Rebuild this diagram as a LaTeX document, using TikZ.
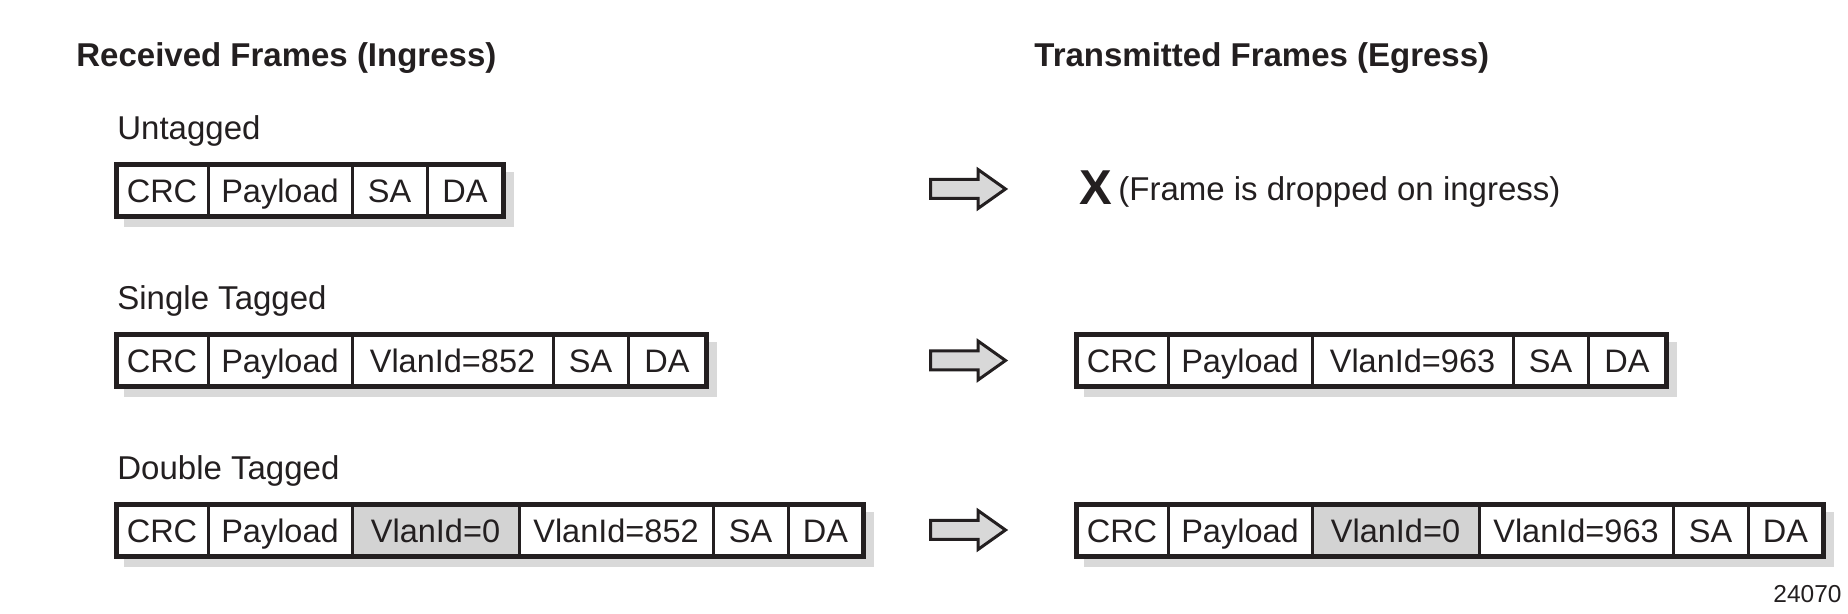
\documentclass[tikz,border=0pt]{standalone}
\usepackage{fontspec}
\setmainfont{Liberation Sans}
\definecolor{ink}{HTML}{231F20}
\definecolor{shade}{HTML}{D9D9D9}
\definecolor{cellgray}{HTML}{D3D3D3}
\definecolor{arrowgray}{HTML}{D8D8D8}
\tikzset{
  cell/.style={draw=ink, line width=1.5pt, inner sep=0pt, outer sep=0pt,
    minimum height=26pt, anchor=west, fill=white, text=ink,
    font=\fontsize{16.25}{19}\selectfont, text height=11.6pt, text depth=0pt},
  graycell/.style={cell, fill=cellgray},
  outerbox/.style={draw=ink, line width=2.5pt},
  shadowbox/.style={fill=shade},
  title/.style={anchor=base west, inner sep=0pt, text=ink, font=\fontsize{16.5}{19}\bfseries\selectfont},
  label/.style={anchor=base west, inner sep=0pt, text=ink, font=\fontsize{16.5}{19}\selectfont},
  blockarrow/.style={draw=ink, line width=1.5pt, fill=arrowgray, line join=miter},
}
\begin{document}
\begin{tikzpicture}[x=0.5pt,y=-0.5pt]
\useasboundingbox (0,0) rectangle (1848,614);

% headings
\node[title] (hin) at (76,67) {Received Frames (Ingress)};
\node[title] (heg) at (1034,67) {Transmitted Frames (Egress)};

% row labels
\node[label] (lun) at (117,140) {Untagged};
\node[label] (lsi) at (117,310) {Single Tagged};
\node[label] (ldo) at (117,480) {Double Tagged};

% ---------- Row 1 ingress ----------
\fill[shadowbox] (124,172.5) rectangle (513.5,227);
\node[cell, minimum width=46pt] (a1) at (116,190.5) {CRC};
\node[cell, minimum width=72pt] (a2) at (a1.east) {Payload};
\node[cell, minimum width=37.5pt] (a3) at (a2.east) {SA};
\node[cell, minimum width=38pt] (a4) at (a3.east) {DA};
\draw[outerbox] (a1.north west) rectangle (a4.south east);

% ---------- Row 2 ingress ----------
\fill[shadowbox] (124,342.5) rectangle (716.5,397);
\node[cell, minimum width=46pt] (b1) at (116,360.5) {CRC};
\node[cell, minimum width=72pt] (b2) at (b1.east) {Payload};
\node[cell, minimum width=100.5pt] (b3) at (b2.east) {VlanId=852};
\node[cell, minimum width=37.5pt] (b4) at (b3.east) {SA};
\node[cell, minimum width=39pt] (b5) at (b4.east) {DA};
\draw[outerbox] (b1.north west) rectangle (b5.south east);

% ---------- Row 3 ingress ----------
\fill[shadowbox] (124,512.5) rectangle (873.5,567);
\node[cell, minimum width=46pt] (c1) at (116,530.5) {CRC};
\node[cell, minimum width=72pt] (c2) at (c1.east) {Payload};
\node[graycell, minimum width=83.5pt] (c3) at (c2.east) {VlanId=0};
\node[cell, minimum width=97pt] (c4) at (c3.east) {VlanId=852};
\node[cell, minimum width=37.5pt] (c5) at (c4.east) {SA};
\node[cell, minimum width=37.5pt] (c6) at (c5.east) {DA};
\draw[outerbox] (c1.north west) rectangle (c6.south east);

% ---------- arrows ----------
\foreach \yc/\nm in {189/ar1, 360.5/ar2, 530/ar3}{
  \coordinate (\nm) at (930.5,\yc);
  \draw[blockarrow] (\nm) ++(0,-9.5) -- ++(47.5,0) -- ++(0,-10) -- ++(27.5,19.5)
     -- ++(-27.5,19.5) -- ++(0,-10) -- ++(-47.5,0) -- cycle;
}

% ---------- Row 1 egress ----------
\node[anchor=base west, inner sep=0pt, text=ink, font=\fontsize{24.5}{28}\bfseries\selectfont] (xx) at (1079,205) {X};
\node[label] (drop) at (1118,201) {(Frame is dropped on ingress)};

% ---------- Row 2 egress ----------
\fill[shadowbox] (1084,342.5) rectangle (1676.5,397);
\node[cell, minimum width=46pt] (d1) at (1076,360.5) {CRC};
\node[cell, minimum width=72pt] (d2) at (d1.east) {Payload};
\node[cell, minimum width=100.5pt] (d3) at (d2.east) {VlanId=963};
\node[cell, minimum width=37.5pt] (d4) at (d3.east) {SA};
\node[cell, minimum width=39pt] (d5) at (d4.east) {DA};
\draw[outerbox] (d1.north west) rectangle (d5.south east);

% ---------- Row 3 egress ----------
\fill[shadowbox] (1084,512.5) rectangle (1833.5,567);
\node[cell, minimum width=46pt] (e1) at (1076,530.5) {CRC};
\node[cell, minimum width=72pt] (e2) at (e1.east) {Payload};
\node[graycell, minimum width=83.5pt] (e3) at (e2.east) {VlanId=0};
\node[cell, minimum width=97pt] (e4) at (e3.east) {VlanId=963};
\node[cell, minimum width=37.5pt] (e5) at (e4.east) {SA};
\node[cell, minimum width=37.5pt] (e6) at (e5.east) {DA};
\draw[outerbox] (e1.north west) rectangle (e6.south east);

% figure number
\node[anchor=base east, inner sep=0pt, text=ink, font=\fontsize{12.25}{14}\selectfont] (fig) at (1842,603) {24070};
\end{tikzpicture}
\end{document}
